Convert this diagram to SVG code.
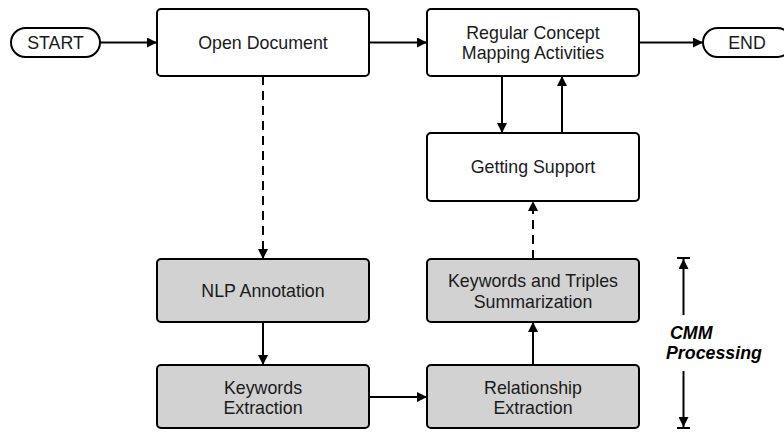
<svg xmlns="http://www.w3.org/2000/svg" width="784" height="432" viewBox="0 0 784 432">
  <style>
    .box { fill: #ffffff; stroke: #000000; stroke-width: 2; }
    .proc { fill: #d2d2d2; stroke: #000000; stroke-width: 2; }
    .label { font-family: "Liberation Sans", Arial, sans-serif; font-size: 17.8px; fill: #1a1a1a; text-anchor: middle; }
    .note { font-family: "Liberation Sans", Arial, sans-serif; font-size: 17.8px; font-weight: bold; font-style: italic; fill: #000000; }
    .edge { fill: none; stroke: #000000; stroke-width: 2; }
    .dash { stroke-dasharray: 9 6; }
  </style>
  <defs>
    <marker id="arrow" viewBox="0 0 10 10" refX="10" refY="5" markerWidth="11" markerHeight="10" markerUnits="userSpaceOnUse" orient="auto">
      <path d="M0,0 L10,5 L0,10 Z" fill="#000000"/>
    </marker>
  </defs>

  <!-- connectors -->
  <g id="connectors">
    <line class="edge" x1="100" y1="42.5" x2="157" y2="42.5" marker-end="url(#arrow)"/>
    <line class="edge" x1="369" y1="42.5" x2="427" y2="42.5" marker-end="url(#arrow)"/>
    <line class="edge" x1="639" y1="42.5" x2="703" y2="42.5" marker-end="url(#arrow)"/>
    <line class="edge dash" x1="263" y1="76" x2="263" y2="259" marker-end="url(#arrow)"/>
    <line class="edge" x1="502" y1="76" x2="502" y2="133" marker-end="url(#arrow)"/>
    <line class="edge" x1="562" y1="133" x2="562" y2="76" marker-end="url(#arrow)"/>
    <line class="edge dash" x1="533" y1="259" x2="533" y2="201" marker-end="url(#arrow)"/>
    <line class="edge" x1="263" y1="322" x2="263" y2="365" marker-end="url(#arrow)"/>
    <line class="edge" x1="369" y1="397" x2="427" y2="397" marker-end="url(#arrow)"/>
    <line class="edge" x1="533" y1="365" x2="533" y2="322" marker-end="url(#arrow)"/>
  </g>

  <g id="start">
    <rect class="box" x="11" y="28" width="89" height="29" rx="14.5"/>
    <text class="label" x="55.5" y="48.5">START</text>
  </g>

  <g id="open-document">
    <rect class="box" x="157" y="9" width="212" height="67" rx="4"/>
    <text class="label" x="263" y="49">Open Document</text>
  </g>

  <g id="regular-activities">
    <rect class="box" x="427" y="9" width="212" height="67" rx="4"/>
    <text class="label" x="533" y="38.5">Regular Concept</text>
    <text class="label" x="533" y="59">Mapping Activities</text>
  </g>

  <g id="end">
    <rect class="box" x="703" y="28" width="89" height="29" rx="14.5"/>
    <text class="label" x="747" y="48.5">END</text>
  </g>

  <g id="getting-support">
    <rect class="box" x="427" y="133" width="212" height="68" rx="4"/>
    <text class="label" x="533" y="173">Getting Support</text>
  </g>

  <g id="nlp-annotation">
    <rect class="proc" x="157" y="259" width="212" height="63" rx="4"/>
    <text class="label" x="263" y="297">NLP Annotation</text>
  </g>

  <g id="keywords-extraction">
    <rect class="proc" x="157" y="365" width="212" height="63" rx="4"/>
    <text class="label" x="263" y="393.5">Keywords</text>
    <text class="label" x="263" y="414">Extraction</text>
  </g>

  <g id="keywords-triples">
    <rect class="proc" x="427" y="259" width="212" height="63" rx="4"/>
    <text class="label" x="533" y="287">Keywords and Triples</text>
    <text class="label" x="533" y="307.5">Summarization</text>
  </g>

  <g id="relationship-extraction">
    <rect class="proc" x="427" y="365" width="212" height="63" rx="4"/>
    <text class="label" x="533" y="393.5">Relationship</text>
    <text class="label" x="533" y="414">Extraction</text>
  </g>

  <!-- span marker for the processing stage -->
  <g id="cmm-processing">
    <line class="edge" x1="677" y1="258" x2="690" y2="258"/>
    <line class="edge" x1="683.5" y1="315" x2="683.5" y2="259" marker-end="url(#arrow)"/>
    <line class="edge" x1="677" y1="428" x2="690" y2="428"/>
    <line class="edge" x1="683.5" y1="371" x2="683.5" y2="427" marker-end="url(#arrow)"/>
    <text class="note" x="670" y="339">CMM</text>
    <text class="note" x="666" y="359">Processing</text>
  </g>
</svg>
